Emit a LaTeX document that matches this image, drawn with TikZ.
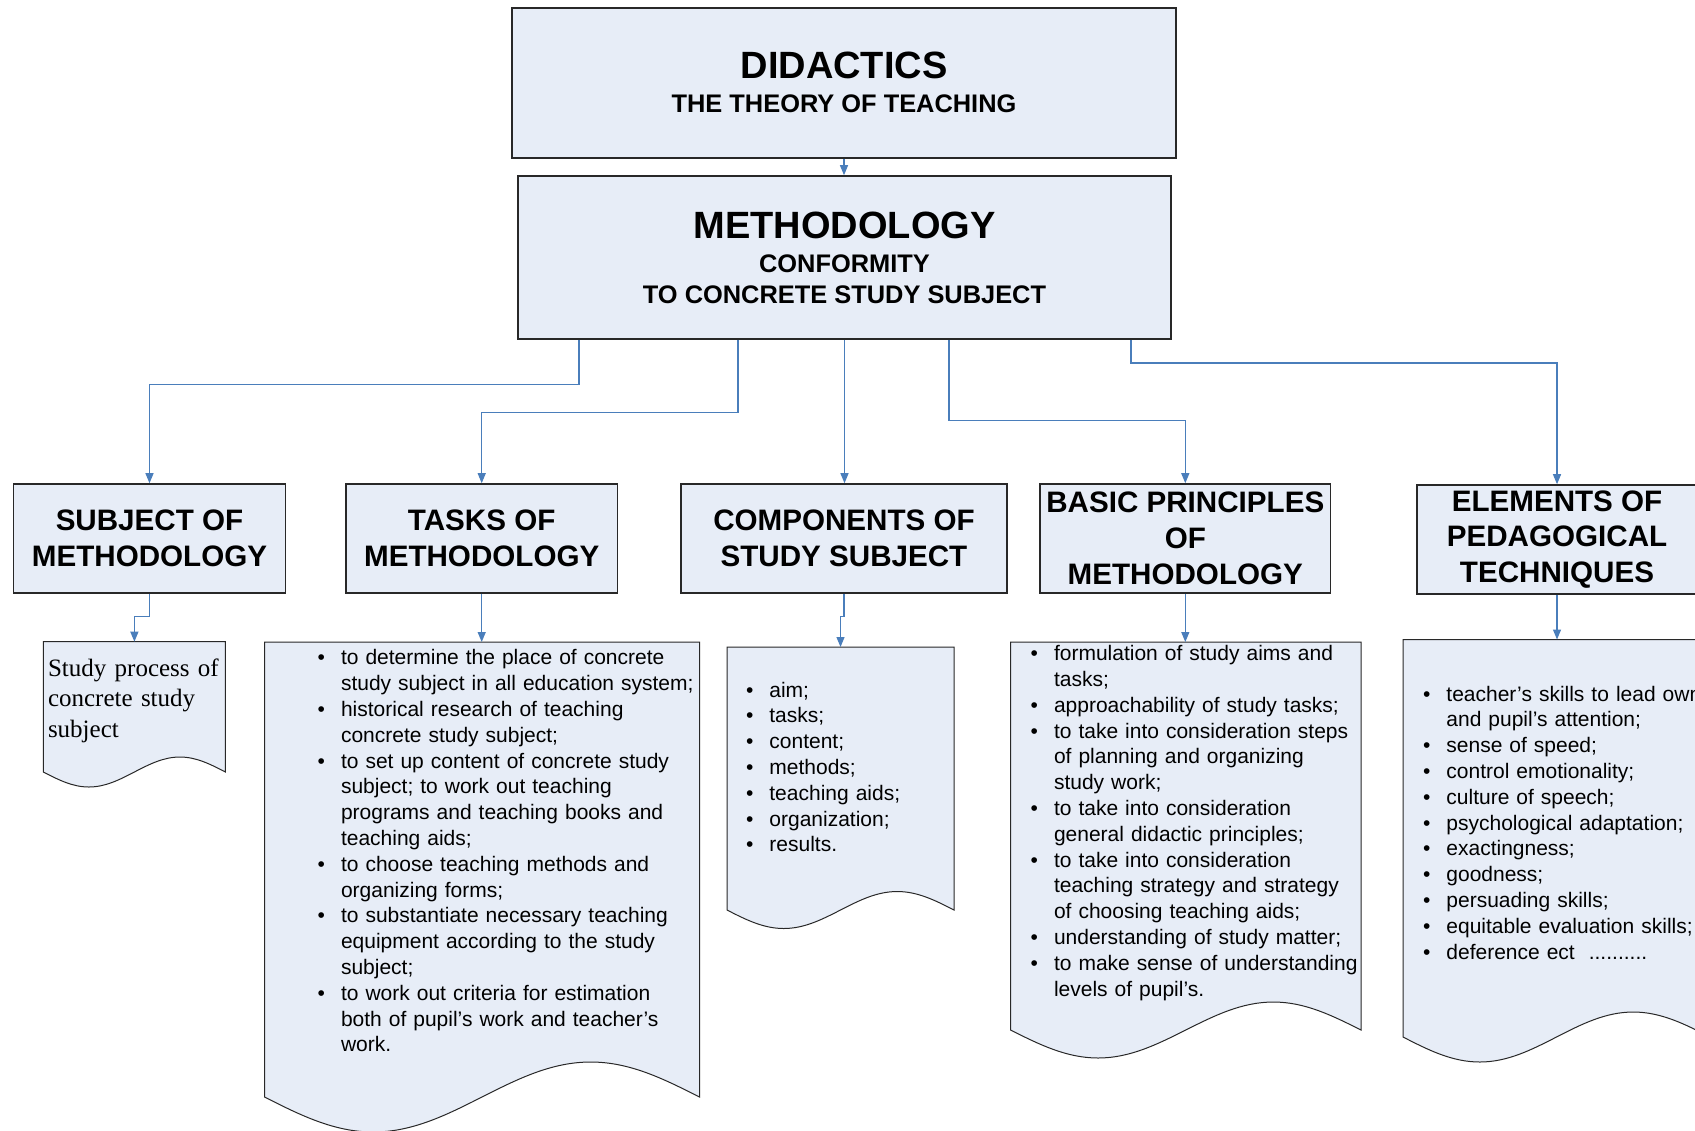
\documentclass[tikz,border=0pt]{standalone}
\usepackage{fontspec}
\setmainfont{Liberation Sans}
\newfontfamily\serifdoc{Liberation Serif}
\usetikzlibrary{arrows.meta,calc}
\definecolor{boxfill}{RGB}{231,237,247}
\definecolor{connc}{RGB}{74,126,187}
\definecolor{bord}{RGB}{40,40,40}
\newcommand{\itm}[1]{\hangindent=12pt\hangafter=1\noindent\makebox[12pt][l]{\hspace{0.3pt}\textbullet}#1\par}
\newcommand{\docshape}[5]{%
  \pgfmathsetmacro{\dqa}{#3-(#3-#1)/4}%
  \pgfmathsetmacro{\dqb}{#3-(#3-#1)/2}%
  \pgfmathsetmacro{\dqc}{#3-3*(#3-#1)/4}%
  \pgfmathsetmacro{\dup}{#4-#5}%
  \pgfmathsetmacro{\ddn}{#4+#5}%
  \filldraw[docsty] (#1,#4) -- (#1,#2) -- (#3,#2) -- (#3,#4) sin (\dqa,\dup) cos (\dqb,#4) sin (\dqc,\ddn) cos (#1,#4) -- cycle;}
\tikzset{
  hbox/.style={draw=bord, fill=boxfill, line width=0.8pt, inner sep=0pt, align=center,
    minimum height=54.5pt, font=\fontsize{14.8}{17.9}\selectfont\bfseries},
  topbox/.style={draw=bord, fill=boxfill, line width=0.8pt, inner sep=0pt},
  bigt/.style={anchor=base, inner sep=0pt, font=\fontsize{19}{23}\selectfont\bfseries},
  subt/.style={anchor=base, inner sep=0pt, font=\fontsize{12.7}{15.5}\selectfont\bfseries},
  docsty/.style={draw=bord, fill=boxfill, line width=0.5pt},
  listnode/.style={anchor=north west, inner sep=0pt, align=left, text width=200pt,
    font=\fontsize{10.5}{12.9}\selectfont},
  conn/.style={draw=connc, line width=0.6pt, -{Triangle[length=5pt,width=4pt]}}
}
\begin{document}
\begin{tikzpicture}[x=0.5pt,y=-0.5pt]
\fill[white] (0,0) rectangle (1695,1130);
\useasboundingbox (0,0) rectangle (1695,1130);

% top boxes
\node[topbox, minimum width=332pt, minimum height=75pt] (did) at (844,83) {};
\node[bigt] (didt1) at (844,78.3) {DIDACTICS};
\node[subt] (didt2) at (844,112.7) {THE THEORY OF TEACHING};

\node[topbox, minimum width=326.5pt, minimum height=81.5pt] (meth) at (844.5,257.5) {};
\node[bigt] (metht1) at (844.5,238.3) {METHODOLOGY};
\node[subt] (metht2) at (844.5,272.3) {CONFORMITY};
\node[subt] (metht3) at (844.5,303.3) {TO CONCRETE STUDY SUBJECT};

% second row
\node[hbox, minimum width=136pt] (subj) at (149.5,538.5) {SUBJECT OF\\METHODOLOGY};
\node[hbox, minimum width=135.7pt] (tasks) at (481.7,538.5) {TASKS OF\\METHODOLOGY};
\node[hbox, minimum width=163pt] (comp) at (844,538.5) {COMPONENTS OF\\STUDY SUBJECT};
\node[hbox, minimum width=145.25pt] (basic) at (1185.3,538.5) {BASIC PRINCIPLES\\OF\\METHODOLOGY};
\node[hbox, minimum width=140pt] (elem) at (1557,539.5) {ELEMENTS OF\\PEDAGOGICAL\\TECHNIQUES};

% documents
\docshape{43.4}{641.7}{225.4}{772}{15}
\coordinate (d1top) at (134.4,641.7);
\docshape{264.5}{642}{699.5}{1097}{35}
\coordinate (d2top) at (482,642);
\docshape{727}{647}{954}{910}{18.5}
\coordinate (d3top) at (840.5,647);
\docshape{1010.5}{642}{1361}{1030}{28}
\coordinate (d4top) at (1185.75,642);
\docshape{1403}{639.5}{1710}{1037}{25}
\coordinate (d5top) at (1556.5,639.5);

% document texts
\node[anchor=north west, inner sep=0pt, align=left, text width=90pt,
  font=\serifdoc\fontsize{12.5}{15.4}\selectfont] (d1t) at (47.6,658)
  {Study process of\\concrete study\\subject};

\node[listnode] (d2t) at (316.6,649.3) {%
\itm{to determine the place of concrete\newline study subject in all education system;}%
\itm{historical research of teaching\newline concrete study subject;}%
\itm{to set up content of concrete study\newline subject; to work out teaching\newline programs and teaching books and\newline teaching aids;}%
\itm{to choose teaching methods and\newline organizing forms;}%
\itm{to substantiate necessary teaching\newline equipment according to the study\newline subject;}%
\itm{to work out criteria for estimation\newline both of pupil’s work and teacher’s\newline work.}};

\node[listnode] (d3t) at (745,681.5) {%
\itm{aim;}\itm{tasks;}\itm{content;}\itm{methods;}\itm{teaching aids;}\itm{organization;}\itm{results.}};

\node[listnode] (d4t) at (1029.6,645) {%
\itm{formulation of study aims and\newline tasks;}%
\itm{approachability of study tasks;}%
\itm{to take into consideration steps\newline of planning and organizing\newline study work;}%
\itm{to take into consideration\newline general didactic principles;}%
\itm{to take into consideration\newline teaching strategy and strategy\newline of choosing teaching aids;}%
\itm{understanding of study matter;}%
\itm{to make sense of understanding\newline levels of pupil’s.}};

\node[listnode] (d5t) at (1422,685.5) {%
\itm{teacher’s skills to lead own\newline and pupil’s attention;}%
\itm{sense of speed;}%
\itm{control emotionality;}%
\itm{culture of speech;}%
\itm{psychological adaptation;}%
\itm{exactingness;}%
\itm{goodness;}%
\itm{persuading skills;}%
\itm{equitable evaluation skills;}%
\itm{deference ect\ \ ..........}};

% connectors
\draw[conn] (did.south) -- (did.south |- meth.north);
\draw[conn] ($(meth.south)+(-265.5,0)$) -- ++(0,44.8) -| (subj.north);
\draw[conn] ($(meth.south)+(-106.5,0)$) -- ++(0,72.9) -| (tasks.north);
\draw[conn] (meth.south) -- (meth.south |- comp.north);
\draw[conn] ($(meth.south)+(104.5,0)$) -- ++(0,80.4) -| (basic.north);
\draw[conn] ($(meth.south)+(286.5,0)$) -- ++(0,23.1) -| (elem.north);

\draw[conn] (subj.south) -- ++(0,22.7) -| (d1top);
\draw[conn] (tasks.south) -- (tasks.south |- d2top);
\draw[conn] (comp.south) -- ++(0,22.7) -| (d3top);
\draw[conn] (basic.south) -- (basic.south |- d4top);
\draw[conn] (elem.south) -- (elem.south |- d5top);
\end{tikzpicture}
\end{document}
